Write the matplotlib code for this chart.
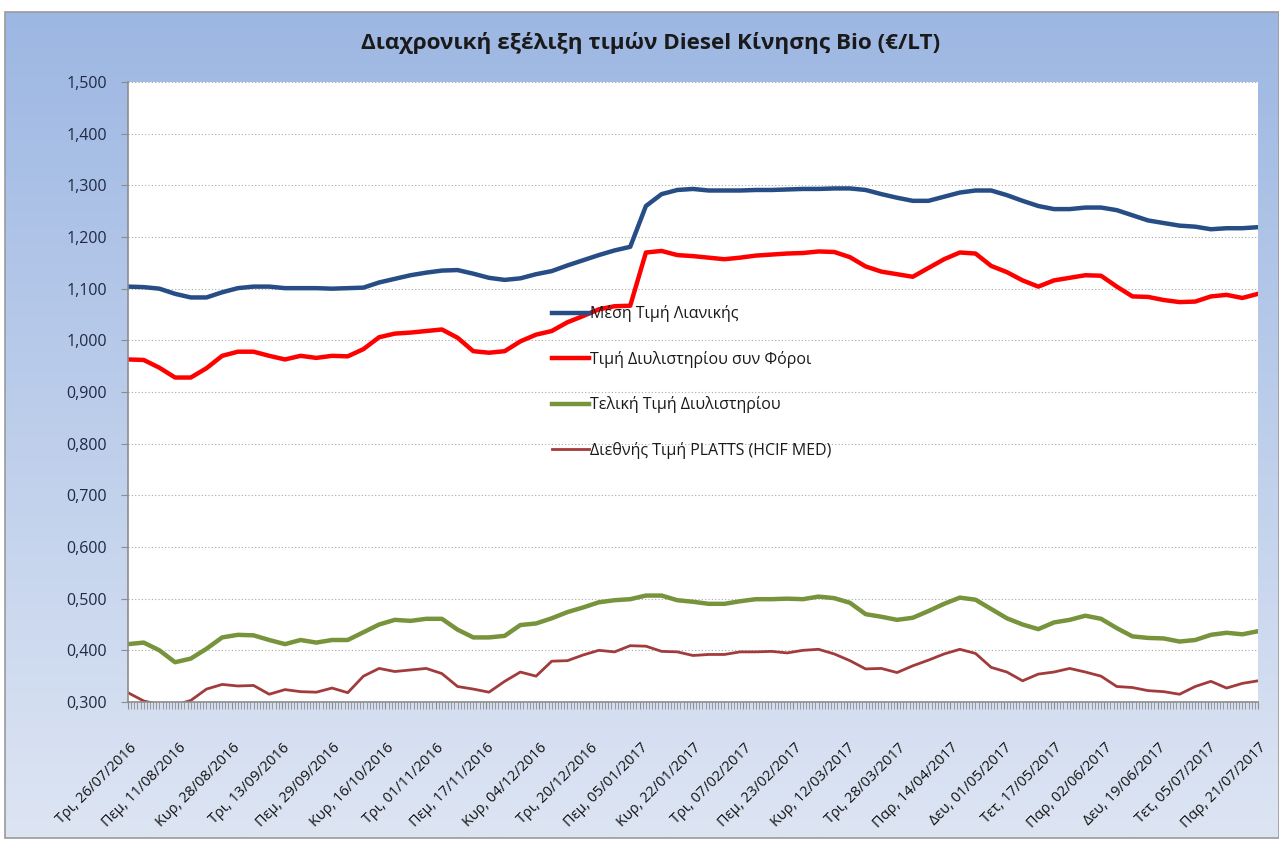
import numpy as np
import pandas as pd
import matplotlib
matplotlib.use("Agg")
import matplotlib.pyplot as plt
import matplotlib.dates as mdates
import matplotlib.transforms as mtransforms
from matplotlib.ticker import FuncFormatter, MultipleLocator
from matplotlib.patches import Rectangle

plt.rcParams['font.family'] = ['Open Sans', 'DejaVu Sans']

# Sample dates (every 5 days over the period)
dates = pd.date_range('2016-07-26', '2017-07-21', freq='5D')

# Μέση Τιμή Λιανικής
retail = [1.104, 1.103, 1.100, 1.090, 1.083, 1.083, 1.093, 1.101, 1.104, 1.104,
          1.101, 1.101, 1.101, 1.100, 1.101, 1.102, 1.112, 1.119, 1.126, 1.131,
          1.135, 1.136, 1.129, 1.121, 1.117, 1.120, 1.128, 1.134, 1.145, 1.155,
          1.165, 1.174, 1.181, 1.260, 1.283, 1.291, 1.293, 1.290, 1.290, 1.290,
          1.291, 1.291, 1.292, 1.293, 1.293, 1.294, 1.294, 1.291, 1.283, 1.276,
          1.270, 1.270, 1.278, 1.286, 1.290, 1.290, 1.281, 1.270, 1.260, 1.254,
          1.254, 1.257, 1.257, 1.252, 1.242, 1.232, 1.227, 1.222, 1.220, 1.215,
          1.217, 1.217, 1.219]

# Τιμή Διυλιστηρίου συν Φόροι
refinery_tax = [0.963, 0.962, 0.947, 0.928, 0.928, 0.946, 0.970, 0.978, 0.978, 0.970,
                0.963, 0.970, 0.966, 0.970, 0.969, 0.983, 1.006, 1.013, 1.015, 1.018,
                1.021, 1.005, 0.979, 0.976, 0.979, 0.998, 1.011, 1.018, 1.035, 1.047,
                1.060, 1.066, 1.067, 1.170, 1.173, 1.165, 1.163, 1.160, 1.157, 1.160,
                1.164, 1.166, 1.168, 1.169, 1.172, 1.171, 1.161, 1.143, 1.133, 1.128,
                1.123, 1.140, 1.157, 1.170, 1.168, 1.144, 1.132, 1.116, 1.104, 1.116,
                1.121, 1.126, 1.125, 1.104, 1.085, 1.084, 1.078, 1.074, 1.075, 1.085,
                1.088, 1.082, 1.090]

# Τελική Τιμή Διυλιστηρίου
refinery = [0.412, 0.415, 0.400, 0.377, 0.384, 0.403, 0.425, 0.430, 0.429, 0.420,
            0.412, 0.420, 0.415, 0.420, 0.420, 0.435, 0.450, 0.459, 0.457, 0.461,
            0.461, 0.440, 0.425, 0.425, 0.428, 0.449, 0.452, 0.462, 0.474, 0.483,
            0.493, 0.497, 0.499, 0.506, 0.506, 0.497, 0.494, 0.490, 0.490, 0.495,
            0.499, 0.499, 0.500, 0.499, 0.504, 0.501, 0.492, 0.470, 0.465, 0.459,
            0.463, 0.476, 0.490, 0.502, 0.498, 0.480, 0.462, 0.450, 0.441, 0.454,
            0.459, 0.467, 0.461, 0.443, 0.427, 0.424, 0.423, 0.417, 0.420, 0.430,
            0.434, 0.431, 0.437]

# Διεθνής Τιμή PLATTS (HCIF MED)
platts = [0.318, 0.302, 0.295, 0.294, 0.303, 0.325, 0.334, 0.331, 0.332, 0.315,
          0.324, 0.320, 0.319, 0.327, 0.318, 0.350, 0.365, 0.359, 0.362, 0.365,
          0.355, 0.330, 0.325, 0.319, 0.340, 0.358, 0.350, 0.379, 0.380, 0.391,
          0.400, 0.397, 0.409, 0.408, 0.398, 0.397, 0.390, 0.392, 0.392, 0.397,
          0.397, 0.398, 0.395, 0.400, 0.402, 0.393, 0.380, 0.364, 0.365, 0.357,
          0.370, 0.381, 0.393, 0.402, 0.394, 0.367, 0.358, 0.341, 0.354, 0.358,
          0.365, 0.358, 0.350, 0.330, 0.328, 0.322, 0.320, 0.315, 0.330, 0.340,
          0.327, 0.336, 0.341]

tick_labels = ["Τρι, 26/07/2016", "Πεμ, 11/08/2016", "Κυρ, 28/08/2016", "Τρι, 13/09/2016",
               "Πεμ, 29/09/2016", "Κυρ, 16/10/2016", "Τρι, 01/11/2016", "Πεμ, 17/11/2016",
               "Κυρ, 04/12/2016", "Τρι, 20/12/2016", "Πεμ, 05/01/2017", "Κυρ, 22/01/2017",
               "Τρι, 07/02/2017", "Πεμ, 23/02/2017", "Κυρ, 12/03/2017", "Τρι, 28/03/2017",
               "Παρ, 14/04/2017", "Δευ, 01/05/2017", "Τετ, 17/05/2017", "Παρ, 02/06/2017",
               "Δευ, 19/06/2017", "Τετ, 05/07/2017", "Παρ, 21/07/2017"]
tick_dates = pd.to_datetime([t.split(", ")[1] for t in tick_labels], format="%d/%m/%Y")

series = [
    ("Μέση Τιμή Λιανικής", retail, "#264D85", 3.2),
    ("Τιμή Διυλιστηρίου συν Φόροι", refinery_tax, "#FF0000", 3.2),
    ("Τελική Τιμή Διυλιστηρίου", refinery, "#77933C", 3.2),
    ("Διεθνής Τιμή PLATTS (HCIF MED)", platts, "#A23B3B", 2.0),
]

W, H = 1279, 841
fig = plt.figure(figsize=(W / 100, H / 100), dpi=100)
fig.patch.set_facecolor("white")

# Chart area background (vertical gradient with a grey border)
bg = fig.add_axes([0, 0, 1, 1], zorder=-5)
bg.set_xlim(0, W)
bg.set_ylim(H, 0)
bg.axis("off")
top = np.array([157, 183, 227]) / 255
bot = np.array([221, 229, 243]) / 255
t = np.linspace(0, 1, 256)[:, None]
grad = (top[None, :] * (1 - t) + bot[None, :] * t)[:, None, :]
bg.imshow(grad, extent=[5, W, 838, 12], aspect="auto", interpolation="bilinear")
bg.add_patch(Rectangle((5, 12), W - 5, 826, fill=False, edgecolor="#9A9A9A", lw=1.2))

ax = fig.add_axes([128 / W, 1 - 702 / H, (1258 - 128) / W, (702 - 82) / H])
ax.set_facecolor("white")

for name, vals, col, lw in series:
    ax.plot(dates, vals, color=col, lw=lw, label=name, solid_joinstyle="round")

ax.set_ylim(0.3, 1.5)
ax.set_xlim(dates[0], dates[-1])
ax.yaxis.set_major_locator(MultipleLocator(0.1))
ax.yaxis.set_major_formatter(FuncFormatter(lambda v, p: f"{v:.3f}".replace(".", ",")))
ax.grid(axis="y", color="#A8A8A8", lw=0.8, ls=(0, (1, 2)))
ax.set_axisbelow(True)

for s in ["top", "right"]:
    ax.spines[s].set_visible(False)
for s in ["left", "bottom"]:
    ax.spines[s].set_color("#8C8C8C")
    ax.spines[s].set_linewidth(1.2)

ax.set_xticks(tick_dates)
ax.set_xticklabels(tick_labels, rotation=45, ha="right", va="center",
                   rotation_mode="anchor", fontsize=10.5, color="#111111")
ax.xaxis.set_minor_locator(mdates.DayLocator())
ax.tick_params(axis="x", which="both", length=5, color="#8C8C8C", pad=10)
ax.tick_params(axis="y", length=5, color="#8C8C8C", labelsize=11.5,
               labelcolor="#1F2A44", pad=10)
offset = mtransforms.ScaledTranslation(6 / 100, -23 / 100, fig.dpi_scale_trans)
for lab in ax.get_xticklabels():
    lab.set_transform(lab.get_transform() + offset)

leg = ax.legend(loc="upper left", bbox_to_anchor=(538 / W, 1 - 291 / H),
                bbox_transform=fig.transFigure, frameon=False, fontsize=11.5,
                handlelength=2.3, handletextpad=0.05, labelspacing=1.78)
for txt in leg.get_texts():
    txt.set_color("#1A1A1A")

fig.text(651 / W, 1 - 43 / H,
         "Διαχρονική εξέλιξη τιμών Diesel Κίνησης Bio (€/LT)",
         ha="center", va="center", fontsize=16.2, fontweight="bold", color="#1A1A1A")

fig.savefig("out.png", dpi=100)
